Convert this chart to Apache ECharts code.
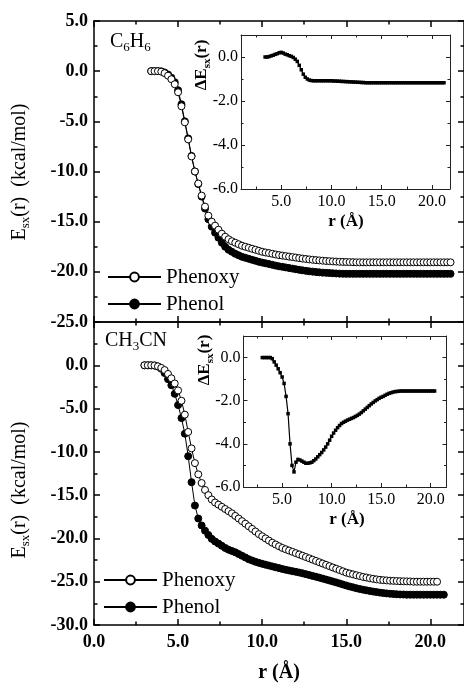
<!DOCTYPE html>
<html><head><meta charset="utf-8">
<script src="https://cdn.jsdelivr.net/npm/echarts@6.0.0/dist/echarts.min.js"></script>
<style>html,body{margin:0;padding:0;background:#fff}#c{width:464px;height:685px}</style>
</head><body><div id="c"></div>
<script>
// ---------- data ----------
const rTop = [3.4,3.6,3.8,4.0,4.2,4.4,4.6,4.8,5.0,5.2,5.4,5.6,5.8,6.0,6.2,6.4,6.6,6.8,7.0,7.2,7.4,7.6,7.8,8.0,8.2,8.4,8.6,8.8,9.0,9.2,9.4,9.6,9.8,10.0,10.2,10.4,10.6,10.8,11.0,11.2,11.4,11.6,11.8,12.0,12.2,12.4,12.6,12.8,13.0,13.2,13.4,13.6,13.8,14.0,14.2,14.4,14.6,14.8,15.0,15.2,15.4,15.6,15.8,16.0,16.2,16.4,16.6,16.8,17.0,17.2,17.4,17.6,17.8,18.0,18.2,18.4,18.6,18.8,19.0,19.2,19.4,19.6,19.8,20.0,20.2,20.4,20.6,20.8,21.0,21.2];
const phenoxyTop = [0,0,0,-0.05,-0.2,-0.45,-0.8,-1.3,-2.1,-3.5,-5.1,-6.8,-8.5,-10.0,-11.2,-12.4,-13.5,-14.4,-15.0,-15.4,-15.8,-16.2,-16.5,-16.75,-16.95,-17.1,-17.25,-17.4,-17.5,-17.6,-17.7,-17.8,-17.9,-18.0,-18.07,-18.13,-18.2,-18.27,-18.33,-18.38,-18.43,-18.48,-18.53,-18.58,-18.63,-18.68,-18.72,-18.76,-18.8,-18.83,-18.86,-18.89,-18.92,-18.94,-18.96,-18.98,-19.0,-19.01,-19.02,-19.03,-19.04,
  -19.05,-19.05,-19.05,-19.05,-19.05,-19.05,-19.05,-19.05,-19.05,-19.05,-19.05,-19.05,-19.05,-19.05,-19.05,-19.05,-19.05,-19.05,-19.05,-19.05,-19.05,-19.05,-19.05,-19.05,-19.05,-19.05,-19.05,-19.05,-19.05];
const phenolTop = [0,0,0,-0.02,-0.13,-0.33,-0.65,-1.1,-1.9,-3.3,-5.0,-6.7,-8.45,-10.0,-11.25,-12.5,-13.7,-14.75,-15.5,-16.1,-16.6,-17.1,-17.5,-17.8,-18.0,-18.2,-18.35,-18.5,-18.6,-18.7,-18.8,-18.9,-19.0,-19.08,-19.15,-19.22,-19.3,-19.38,-19.45,-19.5,-19.56,-19.62,-19.68,-19.74,-19.8,-19.85,-19.9,-19.95,-19.98,-20.02,-20.05,-20.08,-20.1,-20.12,-20.14,-20.16,-20.18,-20.19,
  -20.2,-20.2,-20.2,-20.2,-20.2,-20.2,-20.2,-20.2,-20.2,-20.2,-20.2,-20.2,-20.2,-20.2,-20.2,-20.2,-20.2,-20.2,-20.2,-20.2,-20.2,-20.2,-20.2,-20.2,-20.2,-20.2,-20.2,-20.2,-20.2,-20.2,-20.2,-20.2];
const dETop = [0,0,0.02,0.05,0.08,0.12,0.15,0.19,0.21,0.18,0.13,0.1,0.06,0.03,-0.02,-0.1,-0.2,-0.38,-0.58,-0.78,-0.92,-1.0,-1.05,-1.07,
  -1.08,-1.08,-1.08,-1.08,-1.08,-1.08,-1.08,-1.08,-1.08,-1.08,
  -1.09,-1.09,-1.1,-1.1,-1.11,-1.11,-1.12,-1.12,-1.13,-1.13,-1.14,-1.14,-1.15,-1.15,-1.16,-1.16,-1.17,
  -1.17,-1.17,-1.17,-1.17,-1.17,-1.17,-1.17,-1.17,-1.17,-1.17,-1.17,-1.17,-1.17,-1.17,-1.17,-1.17,-1.17,-1.17,-1.17,-1.17,-1.17,-1.17,-1.17,-1.17,-1.17,-1.17,-1.17,-1.17,-1.17,-1.17,-1.17,-1.17,-1.17,-1.17,-1.17,-1.17,-1.17,-1.17,-1.17];

const rBot = [3.0,3.2,3.4,3.6,3.8,4.0,4.2,4.4,4.6,4.8,5.0,5.2,5.4,5.6,5.8,6.0,6.2,6.4,6.6,6.8,7.0,7.2,7.4,7.6,7.8,8.0,8.2,8.4,8.6,8.8,9.0,9.2,9.4,9.6,9.8,10.0,10.2,10.4,10.6,10.8,11.0,11.2,11.4,11.6,11.8,12.0,12.2,12.4,12.6,12.8,13.0,13.2,13.4,13.6,13.8,14.0,14.2,14.4,14.6,14.8,15.0,15.2,15.4,15.6,15.8,16.0,16.2,16.4,16.6,16.8,17.0,17.2,17.4,17.6,17.8,18.0,18.2,18.4,18.6,18.8,19.0,19.2,19.4,19.6,19.8,20.0,20.2,20.4,20.6,20.8];
const phenoxyBot = [0,0,0,-0.02,-0.12,-0.3,-0.55,-1.0,-1.5,-2.1,-2.9,-4.1,-5.7,-7.7,-9.6,-11.3,-12.6,-13.6,-14.4,-15.0,-15.5,-15.85,-16.1,-16.35,-16.6,-16.85,-17.1,-17.4,-17.7,-18.0,-18.3,-18.6,-18.9,-19.2,-19.5,-19.75,-20.0,-20.25,-20.5,-20.7,-20.9,-21.1,-21.25,-21.4,-21.55,-21.7,-21.85,-22.0,-22.15,-22.3,-22.45,-22.6,-22.75,-22.9,-23.05,-23.2,-23.35,-23.5,-23.65,-23.8,-23.95,-24.05,-24.15,-24.25,-24.35,-24.45,-24.52,-24.6,-24.67,-24.73,-24.78,-24.82,-24.85,-24.88,-24.9,-24.92,-24.94,-24.95,-24.96,-24.97,
  -25.0,-25.0,-25.0,-25.0,-25.0,-25.0,-25.0,-25.0];
const phenolBot = [0,0,0,-0.03,-0.15,-0.4,-0.9,-1.6,-2.3,-3.3,-4.6,-6.1,-7.9,-10.5,-13.5,-16.2,-17.7,-18.5,-19.1,-19.6,-20.05,-20.35,-20.6,-20.85,-21.1,-21.3,-21.45,-21.6,-21.8,-22.0,-22.2,-22.4,-22.55,-22.7,-22.82,-22.93,-23.03,-23.13,-23.23,-23.33,-23.43,-23.53,-23.62,-23.7,-23.78,-23.86,-23.94,-24.03,-24.13,-24.23,-24.33,-24.43,-24.53,-24.64,-24.75,-24.86,-24.97,-25.08,-25.2,-25.32,-25.44,-25.55,-25.65,-25.75,-25.84,-25.92,-26.0,-26.07,-26.14,-26.2,-26.26,-26.31,-26.35,-26.39,-26.42,-26.45,-26.47,-26.48,
  -26.5,-26.5,-26.5,-26.5,-26.5,-26.5,-26.5,-26.5,-26.5,-26.5,-26.5,-26.5];
const dEBot = [0,0,0,0,0,-0.05,-0.2,-0.35,-0.52,-0.7,-0.9,-1.2,-1.8,-2.6,-4.0,-5.0,-5.3,-4.85,-4.72,-4.75,-4.8,-4.85,-4.9,-4.9,-4.88,-4.85,-4.78,-4.7,-4.6,-4.5,-4.4,-4.28,-4.15,-4.0,-3.83,-3.65,-3.5,-3.37,-3.25,-3.15,-3.06,-3.0,-2.95,-2.9,-2.86,-2.82,-2.78,-2.73,-2.68,-2.62,-2.55,-2.47,-2.39,-2.31,-2.23,-2.15,-2.08,-2.01,-1.95,-1.89,-1.84,-1.8,-1.75,-1.7,-1.66,-1.63,-1.6,-1.58,-1.57,-1.56,
  -1.55,-1.55,-1.55,-1.55,-1.55,-1.55,-1.55,-1.55,-1.55,-1.55,-1.55,-1.55,-1.55,-1.55,-1.55,-1.55,-1.55,-1.55];

// tick values
const mainXMajor = [0,5,10,15,20];
const mainXMinor = [2.5,7.5,12.5,17.5];
const topYMajor = [-25,-20,-15,-10,-5,0,5];
const topYMinor = [-22.5,-17.5,-12.5,-7.5,-2.5,2.5];
const botYMajor = [-30,-25,-20,-15,-10,-5,0,5];
const botYMinor = [-27.5,-22.5,-17.5,-12.5,-7.5,-2.5,2.5];
const botYLabels = [-30,-25,-20,-15,-10,-5,0];
const insXMajor = [5,10,15,20];
const insXMinor = [2.5,7.5,12.5,17.5];
const insYMajor = [-6,-4,-2,0];
const insYMinor = [-5,-3,-1];

// ---------- chart ----------
const FONT = 'Liberation Serif';
const xAxes = [], yAxes = [];
function addFrame(g, xr, yr, xt, xm, yt, ym, st) {
  const xi = xAxes.length, yi = yAxes.length;
  const mk = (pos, isX, vals, len, line, label, labelVals) => ({
    type: 'value', gridIndex: g, position: pos,
    min: isX ? xr[0] : yr[0], max: isX ? xr[1] : yr[1],
    axisLine: {show: line, onZero: false, lineStyle: {color: st.color, width: st.lw}},
    axisTick: {show: true, inside: true, length: len, customValues: vals, lineStyle: {color: st.color, width: st.lw}},
    axisLabel: {show: !!label, customValues: labelVals, formatter: v => v.toFixed(1),
      fontFamily: FONT, fontSize: st.fs, fontWeight: st.fw, color: '#000', margin: isX ? st.xm : st.ym},
    splitLine: {show: false}, minorTick: {show: false}, axisPointer: {show: false}
  });
  xAxes.push(mk('bottom', true, xt, st.major, true, st.xLabel, st.xLabelVals));
  xAxes.push(mk('bottom', true, xm, st.minor, false, false));
  xAxes.push(mk('top', true, xt, st.major, true, false));
  xAxes.push(mk('top', true, xm, st.minor, false, false));
  yAxes.push(mk('left', false, yt, st.major, true, st.yLabel, st.yLabelVals));
  yAxes.push(mk('left', false, ym, st.minor, false, false));
  yAxes.push(mk('right', false, yt, st.major, true, false));
  yAxes.push(mk('right', false, ym, st.minor, false, false));
  return {xi, yi};
}
const mainSt = {color: '#000', lw: 1.5, major: 6, minor: 3.5, fs: 18, fw: 'bold', xm: 8, ym: 6};
const insSt = {color: '#222', lw: 1, major: 4, minor: 2.5, fs: 16, fw: 'normal', xm: 5, ym: 3};

const gTop = addFrame(0, [0, 22], [-25, 5], mainXMajor, mainXMinor, topYMajor, topYMinor,
  Object.assign({}, mainSt, {xLabel: false, yLabel: true, yLabelVals: topYMajor}));
const gBot = addFrame(1, [0, 22], [-30, 5], mainXMajor, mainXMinor, botYMajor, botYMinor,
  Object.assign({}, mainSt, {xLabel: true, xLabelVals: mainXMajor, yLabel: true, yLabelVals: botYLabels}));
const gInsTop = addFrame(2, [1, 21.8], [-6, 1], insXMajor, insXMinor, insYMajor, insYMinor,
  Object.assign({}, insSt, {xLabel: true, xLabelVals: insXMajor, yLabel: true, yLabelVals: insYMajor}));
const gInsBot = addFrame(3, [1.1, 21.6], [-6, 1], insXMajor, insXMinor, insYMajor, insYMinor,
  Object.assign({}, insSt, {xLabel: true, xLabelVals: insXMajor, yLabel: true, yLabelVals: insYMajor}));

const pairs = (r, v) => v.map((y, i) => [r[i], y]);
function circleSeries(name, g, r, v, filled, z) {
  return {type: 'line', name, xAxisIndex: g.xi, yAxisIndex: g.yi, data: pairs(r, v),
    symbol: 'circle', symbolSize: 7, showAllSymbol: true, z,
    lineStyle: {color: '#000', width: 1},
    itemStyle: {color: filled ? '#000' : '#fff', borderColor: '#000', borderWidth: 1},
    emphasis: {disabled: true}};
}
function insetSeries(g, r, v) {
  return {type: 'line', name: 'dE', xAxisIndex: g.xi, yAxisIndex: g.yi, data: pairs(r, v),
    symbol: 'rect', symbolSize: 3.5, showAllSymbol: true, z: 5,
    lineStyle: {color: '#000', width: 1.2}, itemStyle: {color: '#000'}, emphasis: {disabled: true}};
}

// legend: icons from the library, labels drawn as serif text next to them
function leg(name, left, top) {
  return {data: [name], left, top, padding: 0, itemWidth: 53, itemHeight: 11, itemGap: 0,
    selectedMode: false, formatter: () => '', textStyle: {fontSize: 1}};
}
function gtext(x, y, text, o) {
  return {type: 'text', x, y, rotation: o.rot || 0, silent: true, z: 100,
    style: {text, fill: '#000', fontFamily: FONT, fontSize: o.fs, fontWeight: o.fw || 'normal',
      align: o.align || 'center', verticalAlign: 'middle',
      rich: {s: {fontSize: o.sfs || 13, fontFamily: FONT, fontWeight: o.fw || 'normal', fill: '#000',
        verticalAlign: 'bottom', lineHeight: o.slh || 24}}}};
}

const chart = echarts.init(document.getElementById('c'), null, {renderer: 'canvas'});
chart.setOption({
  animation: false,
  backgroundColor: '#fff',
  textStyle: {fontFamily: FONT},
  grid: [
    {left: 94, top: 21, width: 371, height: 301},
    {left: 94, top: 322, width: 371, height: 303},
    {left: 241, top: 35, width: 209, height: 154},
    {left: 243.5, top: 336, width: 203, height: 151}
  ],
  xAxis: xAxes,
  yAxis: yAxes,
  legend: [leg('Phenoxy', 107, 271.5), leg('Phenol', 107, 298.5), leg('Phenoxy', 103, 574.5), leg('Phenol', 103, 601.5)],
  series: [
    circleSeries('Phenol', gTop, rTop, phenolTop, true, 3),
    circleSeries('Phenoxy', gTop, rTop, phenoxyTop, false, 4),
    circleSeries('Phenol', gBot, rBot, phenolBot, true, 3),
    circleSeries('Phenoxy', gBot, rBot, phenoxyBot, false, 4),
    insetSeries(gInsTop, rTop, dETop),
    insetSeries(gInsBot, rBot, dEBot)
  ],
  graphic: [
    gtext(166, 277, 'Phenoxy', {fs: 21, align: 'left'}),
    gtext(166, 304, 'Phenol', {fs: 21, align: 'left'}),
    gtext(162, 580, 'Phenoxy', {fs: 21, align: 'left'}),
    gtext(162, 607, 'Phenol', {fs: 21, align: 'left'}),
    gtext(110, 42, 'C{s|6}H{s|6}', {fs: 20, align: 'left'}),
    gtext(105, 341, 'CH{s|3}CN', {fs: 20, align: 'left'}),
    gtext(20, 172, 'E{s|sx}(r)  (kcal/mol)', {fs: 20, rot: Math.PI / 2}),
    gtext(20, 490, 'E{s|sx}(r)  (kcal/mol)', {fs: 20, rot: Math.PI / 2}),
    gtext(202, 65, '\u0394E{s|sx}(r)', {fs: 17, fw: 'bold', sfs: 11, slh: 21, rot: Math.PI / 2}),
    gtext(205, 360, '\u0394E{s|sx}(r)', {fs: 17, fw: 'bold', sfs: 11, slh: 21, rot: Math.PI / 2}),
    gtext(346, 222, 'r (\u00c5)', {fs: 17, fw: 'bold'}),
    gtext(347, 520, 'r (\u00c5)', {fs: 17, fw: 'bold'}),
    gtext(279, 673, 'r (\u00c5)', {fs: 20, fw: 'bold'})
  ]
});
</script></body></html>
